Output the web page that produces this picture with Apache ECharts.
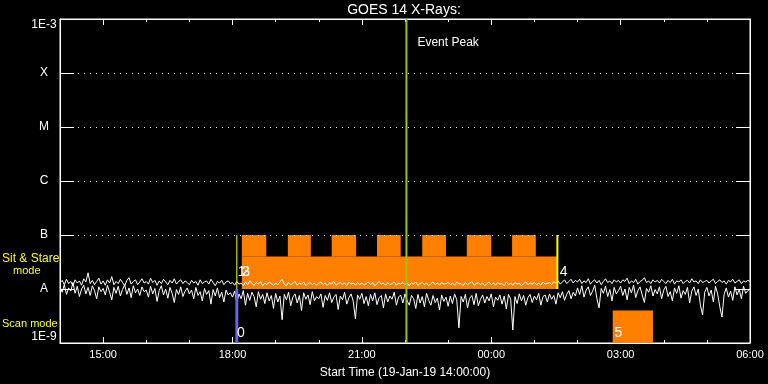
<!DOCTYPE html>
<html>
<head>
<meta charset="utf-8">
<script src="https://cdn.jsdelivr.net/npm/echarts@6.0.0/dist/echarts.min.js"></script>
<style>
html,body{margin:0;padding:0;background:#000;}
#chart{width:768px;height:384px;}
</style>
</head>
<body>
<div id="chart"></div>
<script>
// ---------------- data ----------------
const START_TIME = '14:00';
const STEP_MIN = 3;               // sampling step of the flux arrays (minutes)
const END_TIME = '06:00';

const tickLabels = ['15:00','18:00','21:00','00:00','03:00','06:00'];
const yLevels = [-9,-8,-7,-6,-5,-4,-3];           // log10 flux (W/m^2)
const yLabels = ['1E-9','A','B','C','M','X','1E-3'];
const dottedLevels = [-7,-6,-5,-4];

// log10 flux, upper (smoother) channel, 3-min samples from 14:00 (one row per hour)
const fluxUpper = [
-7.88,-7.84,-7.92,-7.82,-7.90,-7.86,-7.94,-7.83,-7.89,-7.85,-7.93,-7.81,-7.87,-7.70,-7.90,-7.84,-7.92,-7.86,-7.80,-7.91,
-7.85,-7.93,-7.83,-7.89,-7.77,-7.92,-7.86,-7.90,-7.82,-7.88,-7.94,-7.84,-7.79,-7.91,-7.86,-7.83,-7.92,-7.87,-7.81,-7.89,
-7.86,-7.91,-7.80,-7.88,-7.84,-7.93,-7.85,-7.90,-7.82,-7.87,-7.92,-7.84,-7.89,-7.81,-7.91,-7.86,-7.83,-7.90,-7.85,-7.88,
-7.92,-7.84,-7.89,-7.86,-7.93,-7.83,-7.90,-7.87,-7.85,-7.91,-7.82,-7.88,-7.94,-7.86,-7.89,-7.84,-7.92,-7.87,-7.85,-7.90,
-7.88,-7.93,-7.86,-7.91,-7.89,-7.94,-7.87,-7.92,-7.85,-7.90,-7.93,-7.88,-7.91,-7.86,-7.94,-7.89,-7.92,-7.87,-7.90,-7.93,
-7.89,-7.92,-7.87,-7.82,-7.91,-7.94,-7.88,-7.92,-7.90,-7.86,-7.93,-7.89,-7.91,-7.87,-7.94,-7.90,-7.88,-7.92,-7.89,-7.93,
-7.90,-7.87,-7.92,-7.89,-7.94,-7.88,-7.91,-7.86,-7.93,-7.90,-7.88,-7.92,-7.89,-7.94,-7.87,-7.91,-7.89,-7.93,-7.88,-7.92,
-7.89,-7.93,-7.90,-7.87,-7.92,-7.88,-7.94,-7.90,-7.86,-7.91,-7.89,-7.93,-7.88,-7.92,-7.90,-7.87,-7.93,-7.89,-7.91,-7.88,
-7.92,-7.89,-7.94,-7.88,-7.91,-7.87,-7.93,-7.90,-7.88,-7.92,-7.89,-7.94,-7.90,-7.87,-7.92,-7.89,-7.93,-7.88,-7.91,-7.90,
-7.88,-7.92,-7.89,-7.93,-7.87,-7.91,-7.90,-7.94,-7.88,-7.92,-7.89,-7.86,-7.93,-7.90,-7.88,-7.92,-7.89,-7.94,-7.90,-7.87,
-7.92,-7.89,-7.93,-7.88,-7.91,-7.90,-7.94,-7.87,-7.92,-7.89,-7.93,-7.88,-7.91,-7.89,-7.94,-7.90,-7.87,-7.92,-7.89,-7.91,
-7.88,-7.92,-7.89,-7.93,-7.87,-7.91,-7.90,-7.88,-7.92,-7.86,-7.89,-7.85,-7.91,-7.87,-7.83,-7.90,-7.86,-7.82,-7.89,-7.84,
-7.87,-7.82,-7.90,-7.85,-7.88,-7.81,-7.91,-7.86,-7.83,-7.89,-7.84,-7.92,-7.86,-7.81,-7.88,-7.85,-7.90,-7.83,-7.87,-7.84,
-7.89,-7.83,-7.86,-7.80,-7.90,-7.85,-7.88,-7.82,-7.91,-7.86,-7.84,-7.79,-7.88,-7.85,-7.90,-7.83,-7.87,-7.84,-7.89,-7.82,
-7.86,-7.90,-7.84,-7.88,-7.82,-7.91,-7.85,-7.87,-7.83,-7.90,-7.86,-7.84,-7.89,-7.81,-7.87,-7.85,-7.90,-7.83,-7.88,-7.86,
-7.84,-7.89,-7.85,-7.82,-7.90,-7.86,-7.83,-7.88,-7.85,-7.91,-7.84,-7.87,-7.82,-7.89,-7.86,-7.83,-7.90,-7.85,-7.87,-7.84,
-7.86
];
// log10 flux, lower (noisier) channel, 3-min samples from 14:00 (one row per hour)
const fluxLower = [
-7.96,-8.06,-7.92,-8.10,-7.98,-8.04,-7.88,-8.08,-7.95,-8.14,-8.00,-7.93,-8.09,-7.97,-8.12,-7.94,-8.03,-8.18,-7.96,-8.05,
-7.99,-8.11,-7.93,-8.06,-8.20,-7.97,-8.08,-7.95,-8.13,-8.01,-7.92,-8.10,-7.98,-8.16,-7.94,-8.07,-8.00,-8.12,-7.96,-8.05,
-8.02,-8.15,-7.95,-8.09,-7.99,-8.23,-8.03,-7.94,-8.11,-8.00,-8.17,-7.97,-8.08,-8.25,-8.01,-8.10,-7.96,-8.14,-8.04,-7.98,
-8.09,-8.02,-8.18,-7.97,-8.12,-8.05,-8.22,-7.99,-8.10,-8.03,-8.28,-8.01,-8.13,-7.98,-8.16,-8.06,-8.24,-8.02,-8.11,-8.07,
-8.15,-8.04,-8.26,-8.09,-8.18,-8.03,-8.30,-8.08,-8.21,-8.06,-8.14,-8.33,-8.05,-8.19,-8.10,-8.27,-8.07,-8.22,-8.12,-8.36,
-8.08,-8.24,-8.13,-8.57,-8.10,-8.20,-8.06,-8.31,-8.15,-8.09,-8.26,-8.12,-8.40,-8.07,-8.19,-8.11,-8.29,-8.05,-8.22,-8.14,
-8.18,-8.09,-8.34,-8.12,-8.21,-8.07,-8.25,-8.15,-8.10,-8.38,-8.13,-8.20,-8.06,-8.28,-8.16,-8.09,-8.23,-8.55,-8.11,-8.19,
-8.08,-8.27,-8.14,-8.31,-8.10,-8.22,-8.07,-8.29,-8.16,-8.12,-8.35,-8.09,-8.24,-8.13,-8.19,-8.06,-8.30,-8.15,-8.11,-8.26,
-8.09,-8.22,-8.30,-8.12,-8.18,-8.36,-8.10,-8.26,-8.14,-8.33,-8.08,-8.21,-8.30,-8.12,-8.25,-8.17,-8.39,-8.11,-8.23,-8.15,
-8.32,-8.13,-8.27,-8.09,-8.20,-8.72,-8.14,-8.24,-8.10,-8.35,-8.17,-8.12,-8.29,-8.08,-8.31,-8.19,-8.11,-8.26,-8.14,-8.22,
-8.09,-8.33,-8.15,-8.21,-8.11,-8.28,-8.13,-8.37,-8.10,-8.19,-8.76,-8.14,-8.27,-8.09,-8.22,-8.12,-8.30,-8.16,-8.10,-8.25,
-8.13,-8.20,-8.08,-8.30,-8.14,-8.11,-8.24,-8.09,-8.19,-8.12,-8.28,-8.07,-8.16,-8.05,-8.21,-8.10,-8.03,-8.18,-8.06,-8.13,
-7.98,-8.10,-7.94,-8.15,-8.02,-7.96,-8.12,-8.04,-7.93,-8.18,-8.35,-7.99,-8.08,-7.95,-8.14,-8.01,-8.22,-7.97,-8.09,-8.03,
-7.95,-8.12,-8.00,-8.20,-7.97,-8.07,-7.93,-8.16,-8.03,-7.96,-8.11,-8.25,-7.99,-8.06,-7.94,-8.13,-8.01,-8.09,-7.96,-8.18,
-8.02,-7.95,-8.14,-8.05,-8.22,-7.98,-8.08,-7.94,-8.17,-8.03,-8.10,-7.97,-8.26,-8.04,-7.96,-8.12,-8.00,-8.30,-8.48,-8.06,
-7.97,-8.13,-8.02,-8.24,-7.95,-8.09,-8.33,-8.52,-8.10,-7.98,-8.15,-8.04,-8.21,-7.96,-8.11,-8.01,-8.18,-7.95,-8.08,-8.03,
-8.00
];

// observation blocks: [start, end, low log10 flux, high log10 flux]
const sitStareBase = [['18:13','01:32',-8.0,-7.4]];
const sitStareTeeth = [
  ['18:13','18:47',-7.4,-7.0],['19:17','19:49',-7.4,-7.0],['20:18','20:52',-7.4,-7.0],
  ['21:21','21:54',-7.4,-7.0],['22:24','22:57',-7.4,-7.0],['23:26','00:00',-7.4,-7.0],
  ['00:29','01:02',-7.4,-7.0]
];
const scanBlocks = [['02:49','03:45',-9.0,-8.4]];
const blueBars = [['18:04','18:08',-9.0,-8.0]];
// vertical markers: [time, low, high]
const yellowMarks = [['18:06',-8.0,-7.0],['01:32',-8.0,-7.0]];
const peakTime = '22:02';
const peakText = 'Event Peak';
const peakTextLevel = -3.44;
// observation numbers: [text, time, level]
const obsLabels = [
  ['0','18:05',-8.81],['1','18:06',-7.69],['2','18:11',-7.69],['3','18:12',-7.69],
  ['4','01:34',-7.69],['5','02:50',-8.81]
];

// ---------------- helpers ----------------
function toMin(s){
  const p = s.split(':').map(Number);
  const q = START_TIME.split(':').map(Number);
  let t = p[0]*60 + p[1] - (q[0]*60 + q[1]);
  if (t < 0) t += 1440;
  return t;
}
const X_MAX = toMin(END_TIME);
const majorTicks = tickLabels.map(toMin);
const FONT = 'Liberation Sans, Arial, sans-serif';

const upperData = fluxUpper.map((v,i)=>[i*STEP_MIN, v]);
const lowerData = fluxLower.map((v,i)=>[i*STEP_MIN, v]);
const rectRows = a => a.map(r=>[toMin(r[0]), toMin(r[1]), r[2], r[3]]);

function rectRender(color){
  return function(params, api){
    const p0 = api.coord([api.value(0), api.value(3)]);
    const p1 = api.coord([api.value(1), api.value(2)]);
    return {type:'rect', shape:{x:p0[0], y:p0[1], width:p1[0]-p0[0], height:p1[1]-p0[1]},
            style:{fill:color}};
  };
}

const chart = echarts.init(document.getElementById('chart'), null, {renderer:'canvas'});

const axisLineStyle = {color:'#fff', width:1};
const xBase = {type:'value', min:0, max:X_MAX, gridIndex:0, splitLine:{show:false}};

const option = {
  backgroundColor:'#000',
  animation:false,
  grid:{left:60, right:18, top:19, bottom:41, show:true, borderColor:'#fff', borderWidth:1,
        containLabel:false, outerBoundsMode:'none'},
  xAxis:[
    Object.assign({}, xBase, {position:'bottom',
      axisLine:{show:true, onZero:false, lineStyle:axisLineStyle},
      axisTick:{show:true, inside:true, length:6, customValues:majorTicks, lineStyle:axisLineStyle},
      axisLabel:{show:true, customValues:majorTicks, color:'#fff', fontFamily:FONT, fontSize:11, margin:6,
        formatter:v=>tickLabels[majorTicks.indexOf(v)] || ''},
      name:'Start Time (19-Jan-19 14:00:00)', nameLocation:'middle', nameGap:24,
      nameTextStyle:{color:'#fff', fontFamily:FONT, fontSize:12}}),
    Object.assign({}, xBase, {position:'bottom', interval:60,
      axisLine:{show:false, onZero:false}, axisLabel:{show:false},
      axisTick:{show:true, inside:true, length:3, lineStyle:axisLineStyle}}),
    Object.assign({}, xBase, {position:'top',
      axisLine:{show:true, onZero:false, lineStyle:axisLineStyle}, axisLabel:{show:false},
      axisTick:{show:true, inside:true, length:6, customValues:majorTicks, lineStyle:axisLineStyle}}),
    Object.assign({}, xBase, {position:'top', interval:60,
      axisLine:{show:false, onZero:false}, axisLabel:{show:false},
      axisTick:{show:true, inside:true, length:3, lineStyle:axisLineStyle}})
  ],
  yAxis:[
    {type:'value', min:-9, max:-3, interval:1, position:'left',
      axisLine:{show:true, onZero:false, lineStyle:axisLineStyle},
      axisTick:{show:true, inside:true, length:14, lineStyle:axisLineStyle},
      splitLine:{show:false},
      axisLabel:{show:true, color:'#fff', fontFamily:FONT, fontSize:12, margin:16, align:'center',
        verticalAlignMinLabel:'bottom', verticalAlignMaxLabel:'top',
        formatter:v=>yLabels[yLevels.indexOf(Math.round(v))] || ''}},
    {type:'value', min:-9, max:-3, interval:1, position:'right',
      axisLine:{show:true, onZero:false, lineStyle:axisLineStyle},
      axisTick:{show:true, inside:true, length:14, lineStyle:axisLineStyle},
      splitLine:{show:false}, axisLabel:{show:false}}
  ],
  graphic:[
    {type:'text', x:404, y:10, z:10,
      style:{text:'GOES 14 X-Rays:', fill:'#fff', font:'14px '+FONT, align:'center', verticalAlign:'middle'}},
    {type:'text', x:2, y:259, style:{text:'Sit & Stare', fill:'#ffff00', font:'12px '+FONT, verticalAlign:'middle'}},
    {type:'text', x:13, y:271, style:{text:'mode', fill:'#ffff00', font:'11px '+FONT, verticalAlign:'middle'}},
    {type:'text', x:2, y:324, style:{text:'Scan mode', fill:'#ffff00', font:'11px '+FONT, verticalAlign:'middle'}}
  ],
  series:[
    {type:'line', name:'grid', data:[], xAxisIndex:0, yAxisIndex:0, z:1,
      markLine:{silent:true, symbol:['none','none'], label:{show:false},
        lineStyle:{color:'#fff', width:1, type:[1,5]},
        data:dottedLevels.map(v=>({yAxis:v}))}},
    {type:'custom', name:'sitStareBase', data:rectRows(sitStareBase), encode:{x:[0,1], y:[2,3]},
      renderItem:rectRender('#ff8000'), z:2, silent:true},
    {type:'custom', name:'sitStareTeeth', data:rectRows(sitStareTeeth), encode:{x:[0,1], y:[2,3]},
      renderItem:rectRender('#ff8000'), z:2, silent:true},
    {type:'custom', name:'scan', data:rectRows(scanBlocks), encode:{x:[0,1], y:[2,3]},
      renderItem:rectRender('#ff8000'), z:2, silent:true},
    {type:'line', name:'upper', data:upperData, showSymbol:false, symbol:'none', z:3,
      lineStyle:{color:'#fff', width:1}, silent:true},
    {type:'line', name:'lower', data:lowerData, showSymbol:false, symbol:'none', z:3,
      lineStyle:{color:'#fff', width:1}, silent:true},
    {type:'custom', name:'blue', data:rectRows(blueBars), encode:{x:[0,1], y:[2,3]},
      renderItem:rectRender('#6464ff'), z:4, silent:true},
    {type:'custom', name:'yellow', data:yellowMarks.map(r=>[toMin(r[0]), r[1], r[2]]), encode:{x:0, y:[1,2]},
      z:4, silent:true,
      renderItem:function(params, api){
        const a = api.coord([api.value(0), api.value(2)]);
        const b = api.coord([api.value(0), api.value(1)]);
        const w = params.dataIndex === 0 ? 1 : 2;
        return {type:'line', shape:{x1:a[0], y1:a[1], x2:b[0], y2:b[1]}, style:{stroke:'#ffff00', lineWidth:w}};
      }},
    {type:'custom', name:'peak', data:[[toMin(peakTime), -9, -3, peakTextLevel]], encode:{x:0, y:[1,2]},
      z:5, silent:true,
      renderItem:function(params, api){
        const a = api.coord([api.value(0), api.value(2)]);
        const b = api.coord([api.value(0), api.value(1)]);
        const t = api.coord([api.value(0), api.value(3)]);
        return {type:'group', children:[
          {type:'line', shape:{x1:a[0], y1:a[1], x2:b[0], y2:b[1]}, style:{stroke:'#96c800', lineWidth:2}},
          {type:'text', style:{text:peakText, x:t[0]+11, y:t[1], fill:'#fff', font:'12px '+FONT,
            align:'left', verticalAlign:'middle'}}
        ]};
      }},
    {type:'custom', name:'obsLabels', data:obsLabels.map(r=>[toMin(r[1]), r[2]]), encode:{x:0, y:1},
      z:6, silent:true,
      renderItem:function(params, api){
        const p = api.coord([api.value(0), api.value(1)]);
        return {type:'text', style:{text:obsLabels[params.dataIndex][0], x:p[0]+1, y:p[1],
          fill:'#fff', font:'14px '+FONT, align:'left', verticalAlign:'middle'}};
      }}
  ]
};
chart.setOption(option);
</script>
</body>
</html>
